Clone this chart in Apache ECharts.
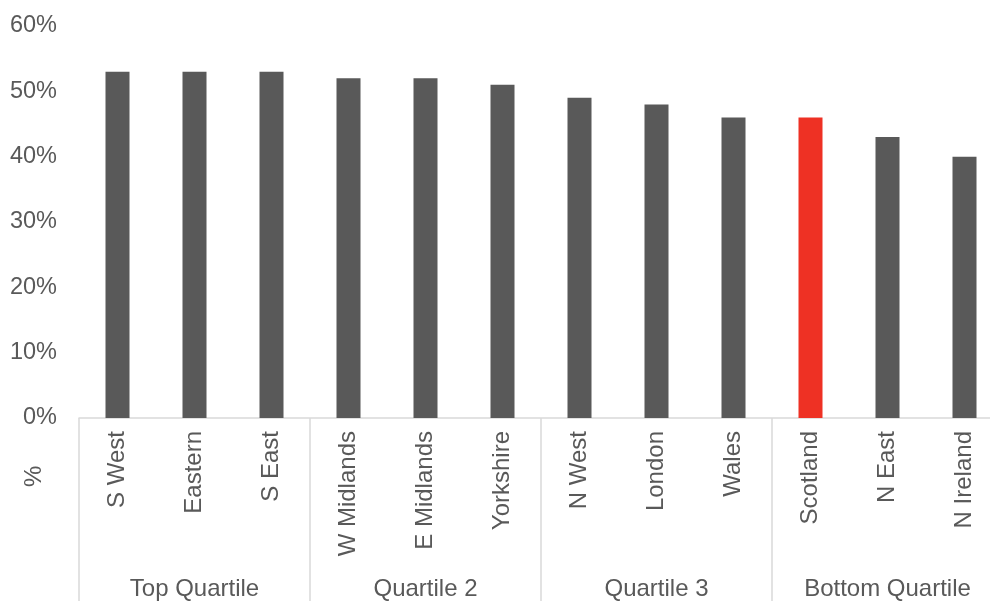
<!DOCTYPE html>
<html>
<head>
<meta charset="utf-8">
<script src="https://cdn.jsdelivr.net/npm/echarts@6/dist/echarts.min.js"></script>
<style>
html,body{margin:0;padding:0;background:#fff;}
#c{width:990px;height:601px;}
</style>
</head>
<body>
<div id="c"></div>
<script>
const regions = ['S West','Eastern','S East','W Midlands','E Midlands','Yorkshire','N West','London','Wales','Scotland','N East','N Ireland'];
const values = [53,53,53,52,52,51,49,48,46,46,43,40];
const groups = ['Top Quartile','Quartile 2','Quartile 3','Bottom Quartile'];
const highlight = 'Scotland';
const yTicks = {min:0, max:60, interval:10};

const FONT = 'Liberation Sans, Arial, sans-serif';
const TXT = '#595959';
const chart = echarts.init(document.getElementById('c'), null, {renderer:'canvas'});
chart.setOption({
  animation:false,
  backgroundColor:'#fff',
  grid:{left:79, right:-13, top:26, bottom:183, containLabel:false, outerBoundsMode:'none'},
  xAxis:[
    {type:'category', data:regions, position:'bottom',
     axisLine:{show:true, lineStyle:{color:'#d9d9d9', width:1.5}},
     axisTick:{show:false},
     axisLabel:{rotate:90, margin:13, fontSize:24, color:TXT, fontFamily:FONT, interval:0}},
    {type:'category', data:groups, position:'bottom',
     axisLine:{show:false},
     axisTick:{show:true, length:183, lineStyle:{color:'#d9d9d9', width:1.5}},
     axisLabel:{margin:159, fontSize:24, color:TXT, fontFamily:FONT, interval:0}}
  ],
  yAxis:{type:'value', min:yTicks.min, max:yTicks.max, interval:yTicks.interval,
    axisLine:{show:false}, axisTick:{show:false}, splitLine:{show:false},
    axisLabel:{formatter:'{value}%', fontSize:23.5, color:TXT, fontFamily:FONT, margin:22, padding:[6,0,0,0]}},
  series:[{type:'bar', xAxisIndex:0, barWidth:24,
    data:values.map((v,i)=>({value:v, itemStyle:{color: regions[i]===highlight ? '#EE3124' : '#595959'}}))}],
  graphic:[{type:'text', x:22, y:487, rotation:Math.PI/2,
    style:{text:'%', fontSize:24, fill:TXT, fontFamily:FONT}}]
});
</script>
</body>
</html>
